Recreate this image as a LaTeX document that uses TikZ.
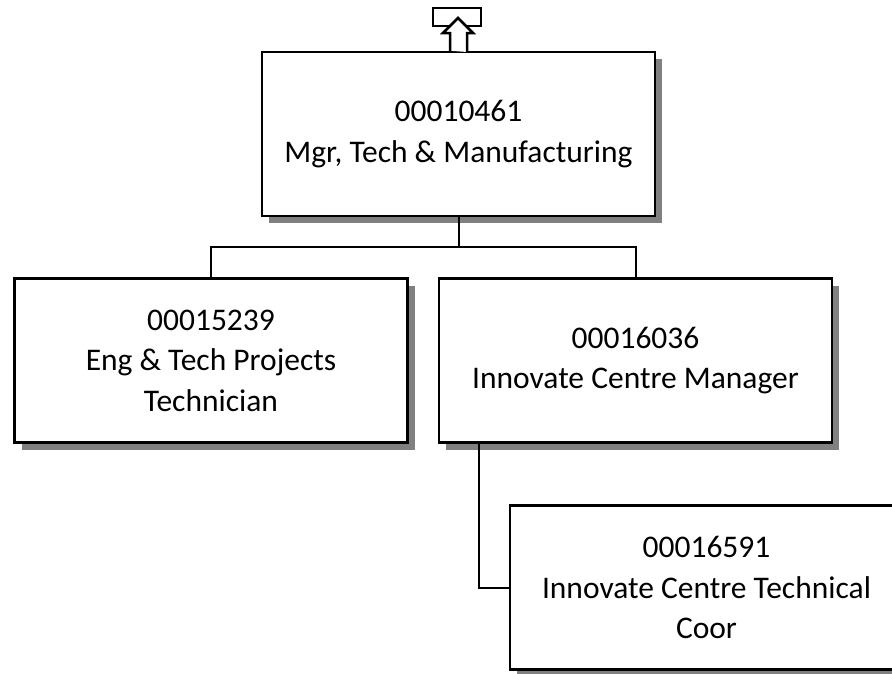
\documentclass[tikz,border=0pt]{standalone}
\usepackage{fontspec}
\setmainfont{Carlito}
\usetikzlibrary{shadows}
\definecolor{shadowgray}{RGB}{128,128,128}
\tikzset{
  posbox/.style={draw=black, line width=2.5pt, fill=white, rectangle,
    minimum width=393pt, minimum height=164pt, inner sep=0pt, align=center,
    font=\fontsize{31.5}{40.5}\selectfont,
    drop shadow={shadow xshift=7pt, shadow yshift=-7pt, fill=shadowgray, opacity=1}},
  link/.style={draw=black, line width=2pt},
  icon/.style={draw=black, line width=2.5pt, fill=white, line join=miter}
}
\begin{document}
\begin{tikzpicture}[x=1pt,y=-1pt]
\useasboundingbox (0,0) rectangle (892,673);
\begin{scope}
\clip (0,0) rectangle (892,673);
\node[posbox] (top) at (458.5,134) {00010461\\Mgr, Tech \& Manufacturing};
\node[posbox] (left) at (211,360.5) {00015239\\Eng \& Tech Projects\\Technician};
\node[posbox] (right) at (635.5,360.5) {00016036\\Innovate Centre Manager};
\node[posbox] (bottom) at (706.5,587.5) {00016591\\Innovate Centre Technical\\Coor};
\coordinate (bar) at (458.5,247);
\draw[link] (top.south) -- (bar) -| (left.north);
\draw[link] (bar) -| (right.north);
\draw[link] ([xshift=41pt]right.south west) |- (bottom.west);
\draw[icon] (433,8) rectangle (481,26);
\draw[icon] (top.north) ++(-8.5,0) coordinate (stemL) -- (450,33) -- (443,33) -- (458,18) -- (473,33) -- (467,33) -- (467,52);
\end{scope}
\end{tikzpicture}
\end{document}
